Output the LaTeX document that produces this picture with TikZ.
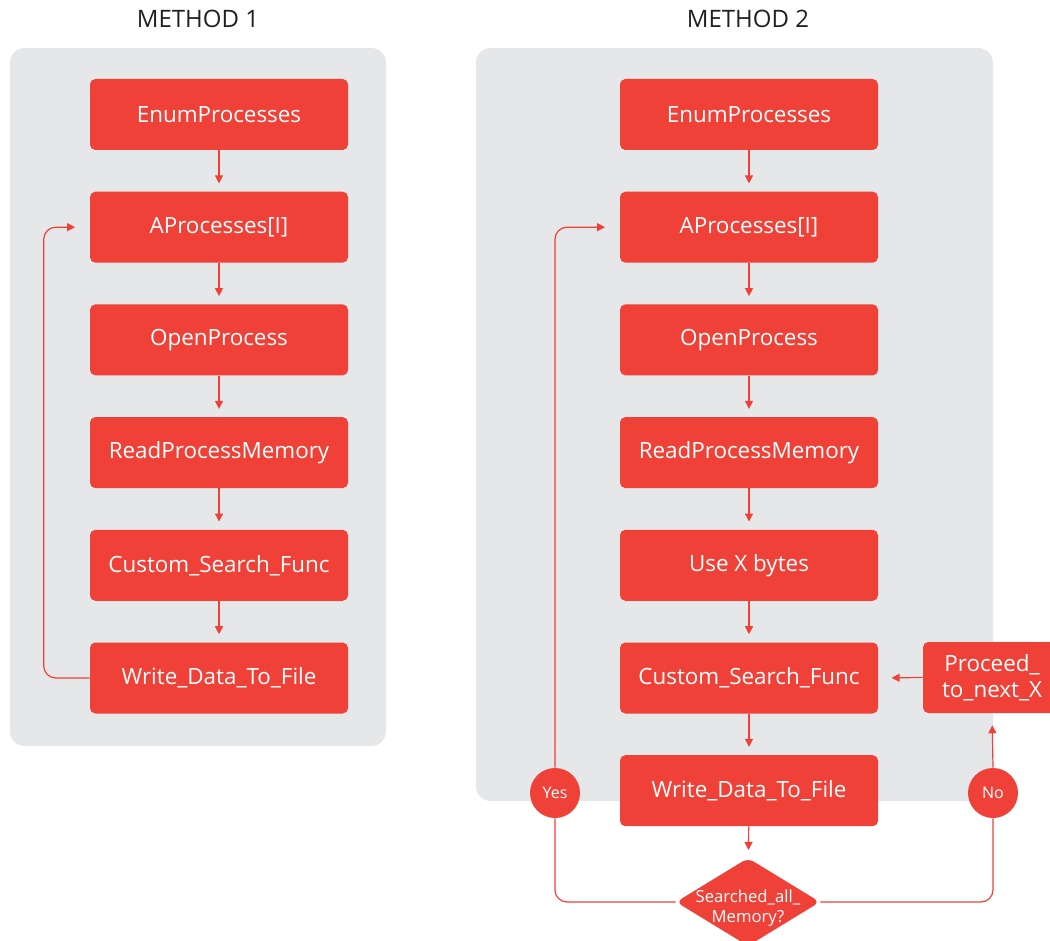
\documentclass[tikz,border=0pt]{standalone}
\usepackage{fontspec}
\setmainfont{Open Sans}
\usetikzlibrary{arrows.meta, shapes.geometric, calc}
\definecolor{kred}{HTML}{EF4137}
\definecolor{kgrey}{HTML}{E6E7E8}
\definecolor{ink}{HTML}{231F20}
\tikzset{
  box/.style    = {fill=kred, text=white, rounded corners=4pt, inner sep=2pt,
                   minimum width=193.5pt, minimum height=53.25pt,
                   font=\fontsize{16.8}{20}\selectfont},
  sidebox/.style= {box, minimum width=103.5pt, align=center,
                   font=\fontsize{16.8}{19.5}\selectfont},
  tray/.style   = {fill=kgrey, rounded corners=11pt},
  sig/.style    = {-{Triangle[length=6pt, width=6pt]}, kred, line width=0.9pt,
                   shorten >=6pt},
  loop/.style   = {sig, rounded corners=9pt, shorten >=11pt},
  wire/.style   = {kred, line width=0.9pt, rounded corners=9pt},
  ans/.style    = {circle, fill=kred, text=white, minimum size=37.5pt, inner sep=0pt,
                   font=\fontsize{12}{14}\selectfont},
  diam/.style   = {diamond, fill=kred, rounded corners=5pt, inner sep=0pt,
                   minimum width=108pt, minimum height=66pt},
  dtext/.style  = {text=white, align=center, font=\fontsize{12.5}{15}\selectfont},
  title/.style  = {text=ink, font=\fontsize{18}{21}\selectfont},
}

\begin{document}
\begin{tikzpicture}[x=0.75pt, y=-0.75pt]
  \useasboundingbox (0,0) rectangle (1050,941);

  % trays
  \fill[tray] (10,48) rectangle (386,746);
  \fill[tray] (476,48) rectangle (993,801);
  \node[title] (t1) at (198,19) {METHOD 1};
  \node[title] (t2) at (748,19) {METHOD 2};

  % method 1
  \foreach \t [count=\i from 0] in {EnumProcesses, AProcesses[I], OpenProcess,
      ReadProcessMemory, Custom\_Search\_Func, Write\_Data\_To\_File}
    \node[box] (L\i) at (219,114.5+\i*112.7) {\t};
  \foreach \a/\b in {0/1,1/2,2/3,3/4,4/5}
    \draw[sig] (L\a) -- (L\b);
  \draw[loop] (L5.west) -- ++(-46,0) |- (L1.west);

  % method 2
  \foreach \t [count=\i from 0] in {EnumProcesses, AProcesses[I], OpenProcess,
      ReadProcessMemory, Use X bytes, Custom\_Search\_Func, Write\_Data\_To\_File}
    \node[box] (R\i) at (749,114.5+\i*112.7) {\t};
  \foreach \a/\b in {0/1,1/2,2/3,3/4,4/5,5/6}
    \draw[sig] (R\a) -- (R\b);

  \node[diam] (D) at (748,902) {};
  \node[dtext] (Dt) at (748,908) {Searched\_all\_\\Memory?};
  \draw[sig] (R6) -- (D);

  \node[sidebox] (P) at (992,677.5) {Proceed\_\\to\_next\_X};
  \node[ans] (yes) at (555,793) {Yes};
  \node[ans] (no) at (993,793) {No};

  \draw[wire] (D.west) -| (yes.south);
  \draw[loop] (yes.north) |- (R1.west);
  \draw[wire] (D.east) -| (no.south);
  \draw[sig, shorten >=9pt] (no.north) -- (P.south);
  \draw[sig, shorten >=10pt] (P.west) -- (R5.east);
\end{tikzpicture}
\end{document}
